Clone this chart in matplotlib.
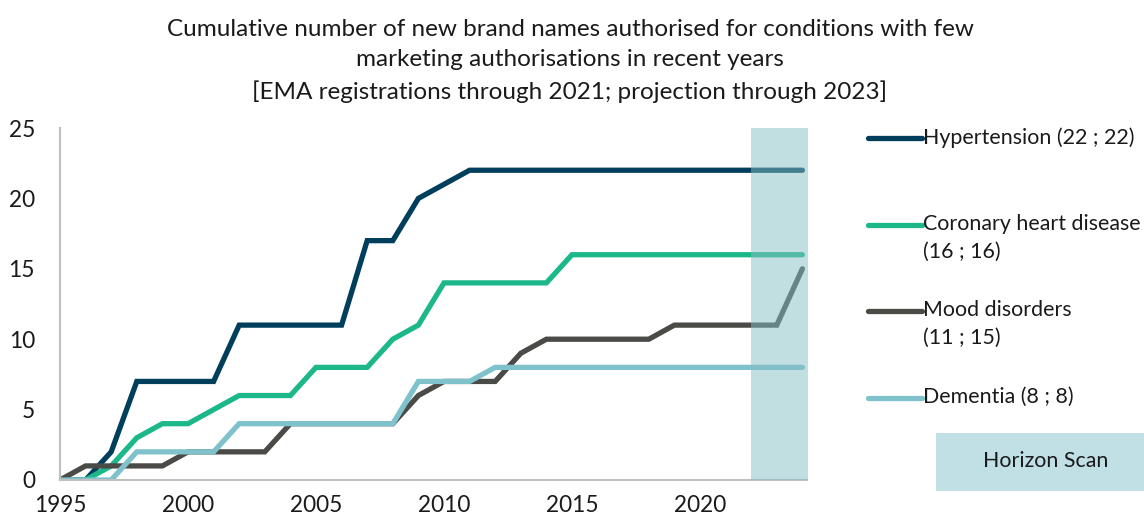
import numpy as np
import matplotlib.pyplot as plt
from matplotlib.lines import Line2D
from matplotlib.patches import Rectangle

plt.rcParams['font.family'] = ['Lato', 'DejaVu Sans']

years = list(range(1995, 2025))

hypertension = [0, 0, 2, 7, 7, 7, 7, 11, 11, 11, 11, 11, 17, 17, 20, 21, 22,
                22, 22, 22, 22, 22, 22, 22, 22, 22, 22, 22, 22, 22]
coronary = [0, 0, 1, 3, 4, 4, 5, 6, 6, 6, 8, 8, 8, 10, 11, 14, 14,
            14, 14, 14, 16, 16, 16, 16, 16, 16, 16, 16, 16, 16]
mood = [0, 1, 1, 1, 1, 2, 2, 2, 2, 4, 4, 4, 4, 4, 6, 7, 7,
        7, 9, 10, 10, 10, 10, 10, 11, 11, 11, 11, 11, 15]
dementia = [0, 0, 0, 2, 2, 2, 2, 4, 4, 4, 4, 4, 4, 4, 7, 7, 7,
            8, 8, 8, 8, 8, 8, 8, 8, 8, 8, 8, 8, 8]

series_names = ["Hypertension (22 ; 22)", "Coronary heart disease\n(16 ; 16)",
                "Mood disorders\n(11 ; 15)", "Dementia (8 ; 8)"]
series_values = [hypertension, coronary, mood, dementia]
colors = ["#003F5C", "#1DB88A", "#4A4A46", "#7FC2CC"]

horizon_start = 2022
horizon_end = 2024.3

fig = plt.figure(figsize=(11.44, 5.18), dpi=100)
ax = fig.add_axes([60 / 1144, 38 / 518, 747.5 / 1144, 352 / 518])

for vals, c in zip(series_values, colors):
    ax.plot(years, vals, color=c, lw=3.8, solid_capstyle='round', solid_joinstyle='miter')

# horizon scan band sits on top of the lines
ax.axvspan(horizon_start, horizon_end, color="#85BEC5", alpha=0.5, lw=0, zorder=5)

ax.set_xlim(1995, 2024.2)
ax.set_ylim(0, 25)
ax.set_xticks([1995, 2000, 2005, 2010, 2015, 2020])
ax.set_yticks([0, 5, 10, 15, 20, 25])
ax.tick_params(axis='both', length=0, labelsize=16.3, colors='#1a1a1a')
ax.tick_params(axis='y', pad=18)
ax.tick_params(axis='x', pad=11)
for s in ['top', 'right']:
    ax.spines[s].set_visible(False)
for s in ['left', 'bottom']:
    ax.spines[s].set_color('#BFBFBF')
    ax.spines[s].set_linewidth(1.5)

fig.text(570 / 1144, 1 - 61 / 518,
         "Cumulative number of new brand names authorised for conditions with few\n"
         "marketing authorisations in recent years\n"
         "[EMA registrations through 2021; projection through 2023]",
         ha='center', va='center', fontsize=17.5, linespacing=1.55, color='#1a1a1a')

# legend drawn by hand so the first label line sits on the handle
legend_y = [138, 225, 311, 398]
for name, c, ly in zip(series_names, colors, legend_y):
    yf = 1 - ly / 518
    fig.add_artist(Line2D([868 / 1144, 922 / 1144], [yf, yf], transform=fig.transFigure,
                          color=c, lw=3.8, solid_capstyle='round'))
    fig.text(923 / 1144, 1 - (ly - 11) / 518, name, ha='left', va='top',
             fontsize=15.4, linespacing=1.5, color='#1a1a1a')

fig.add_artist(Rectangle((936 / 1144, 1 - 491 / 518), 208 / 1144, 58 / 518,
                         transform=fig.transFigure, facecolor="#C1E0E5", edgecolor='none'))
fig.text(1046 / 1144, 1 - 461 / 518, "Horizon Scan", ha='center', va='center',
         fontsize=15.4, color='#1a1a1a')

fig.savefig("out.png", dpi=100)
